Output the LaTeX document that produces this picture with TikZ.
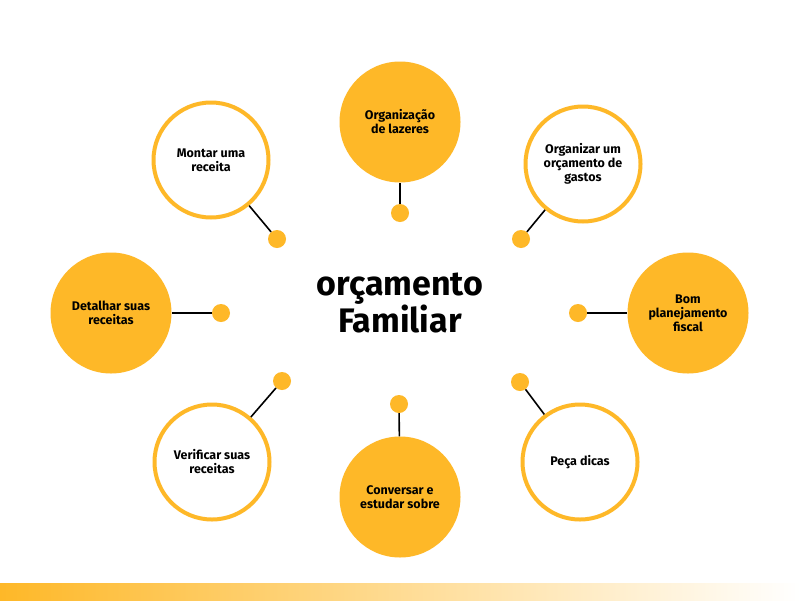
\documentclass[tikz,border=0pt]{standalone}
\usepackage{fontspec}
\setmainfont{Fira Sans}
\definecolor{laranja}{RGB}{254,184,40}

\begin{document}
\begin{tikzpicture}[x=1pt,y=-1pt]
% définition des styles
\tikzstyle{bulle}=[circle, draw=laranja, fill=white, line width=4pt, minimum size=115pt, inner sep=0pt, align=center, font=\fontsize{12.5}{14}\selectfont\bfseries]
\tikzstyle{bullepleine}=[circle, fill=laranja, minimum size=121pt, inner sep=0pt, align=center, font=\fontsize{12.5}{14}\selectfont\bfseries]
\tikzstyle{point}=[circle, fill=laranja, minimum size=18pt, inner sep=0pt]
\tikzstyle{tige}=[line width=1.6pt, color=black]

% le cadre et la bande du bas
\useasboundingbox (0,0) rectangle (800,600);
\fill[white] (0,0) rectangle (800,600);
\shade[left color=laranja, right color=white] (0,583) rectangle (800,600);

% le titre
\node[align=center, font=\fontsize{34}{31}\selectfont\bfseries] (titre) at (400,303) {orçamento\\Familiar};

% les bulles
\node[bullepleine] (lazer) at (400,122) {Organização\\de lazeres};
\node[bulle] (receita) at (211,160) {Montar uma\\receita};
\node[bulle] (gastos) at (583,164) {Organizar um\\orçamento de\\gastos};
\node[bullepleine] (detalhar) at (111,313) {Detalhar suas\\receitas};
\node[bullepleine] (fiscal) at (688,313) {Bom\\planejamento\\fiscal};
\node[bulle] (verificar) at (212,462) {Verificar suas\\receitas};
\node[bullepleine] (conversar) at (400,497) {Conversar e\\estudar sobre};
\node[bulle] (dicas) at (580,462) {Peça dicas};

% les points
\node[point] (p1) at (400,213) {};
\node[point] (p2) at (277,239) {};
\node[point] (p3) at (521,239) {};
\node[point] (p4) at (221,313) {};
\node[point] (p5) at (578,313) {};
\node[point] (p6) at (282,381) {};
\node[point] (p7) at (399,404) {};
\node[point] (p8) at (520,382) {};

% les liens
\draw[tige] (p1)--(lazer);
\draw[tige] (p2)--(receita);
\draw[tige] (p3)--(gastos);
\draw[tige] (p4)--(detalhar);
\draw[tige] (p5)--(fiscal);
\draw[tige] (p6)--(verificar);
\draw[tige] (p7)--(conversar);
\draw[tige] (p8)--(dicas);
\end{tikzpicture}
\end{document}
